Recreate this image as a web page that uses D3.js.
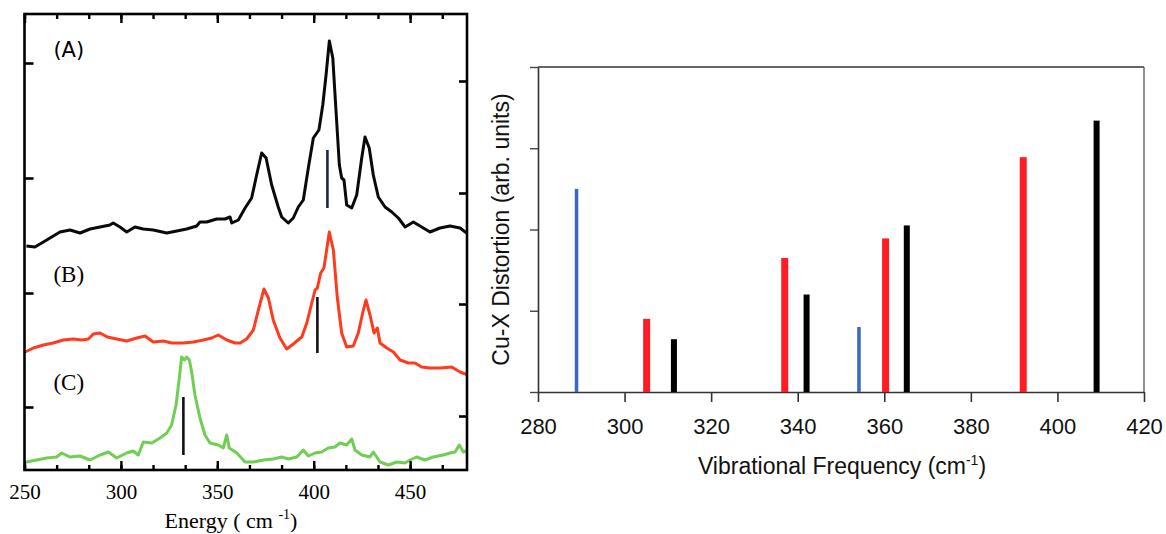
<!DOCTYPE html>
<html>
<head>
<meta charset="utf-8">
<script src="https://cdn.jsdelivr.net/npm/d3@7"></script>
<style>
  html, body { margin: 0; padding: 0; background: #fff; }
  svg { display: block; }
</style>
</head>
<body>
<svg id="chart" width="1166" height="534"></svg>
<script>
// ---- Left panel: resonance Raman spectra (stacked, arbitrary intensity) ----
// [energy (cm-1), intensity]
const spectrumA = [
  [251,22.4],[255.4,22.3],[259.8,22.8],[264.1,23.3],[268.4,23.8],[273.6,24.0],[278.8,23.7],
  [284,24.1],[289.2,24.3],[294.3,24.5],[296,24.7],[299.5,24.3],[303,23.8],[307.3,24.3],
  [311.6,24.1],[316.8,24.0],[323.8,23.7],[329,23.9],[334.1,24.1],[339.3,24.4],[341,24.8],
  [344.5,24.8],[349.7,25.1],[354,25.1],[356.6,25.3],[357.5,24.7],[360.9,25.0],[364.4,26.2],
  [367.8,27.2],[370.4,29.5],[373,31.7],[375.3,31.2],[378.2,28.5],[381.6,26.3],[383.4,25.3],
  [386.8,24.7],[389.4,25.2],[392,26.3],[394.6,27.0],[397.2,30.2],[399.8,33.2],[402.7,34.0],
  [404.7,36.5],[406.4,39.5],[408.1,42.9],[409.9,41.2],[411.6,35.8],[413.3,30.5],[414.5,29.2],
  [415.7,29.0],[417.1,26.5],[419.7,26.2],[422.3,27.5],[424.9,31.2],[426.6,33.3],[428.8,32.2],
  [430.9,29.5],[433.5,27.3],[437,26.3],[440.5,25.8],[443.9,25.2],[447.4,24.3],[451.7,24.8],
  [456,24.3],[460.3,23.8],[465.5,24.2],[470.7,24.4],[475.9,24.2],[480,23.6]
];
const spectrumB = [
  [250.3,11.8],[254.6,12.2],[259.8,12.5],[264.9,12.7],[270.1,13.0],[275.3,13.1],[279.7,13.0],
  [283.1,13.1],[285.7,13.6],[289.2,13.7],[292.9,13.3],[297.8,13.1],[303,12.9],[308.2,13.2],
  [312.5,13.4],[316.8,12.8],[322,12.9],[326.3,12.7],[332.4,12.7],[337.6,12.8],[342.7,13.0],
  [347.1,13.2],[350.5,13.5],[354.9,13.0],[359.2,12.7],[361.8,12.7],[365.2,13.1],[368.7,14.0],
  [371.3,16.0],[374.2,18.1],[376.5,17.2],[379,15.0],[382.5,13.2],[386,12.1],[389.4,12.6],
  [393.8,13.3],[396.4,14.7],[399,16.7],[400.7,18.0],[401.9,18.2],[403.6,19.7],[405.3,20.2],
  [408.1,23.8],[410.2,22.0],[412.2,17.3],[414.5,13.7],[417.1,12.3],[420.5,12.4],[423.1,13.7],
  [425.4,15.7],[427.1,17.0],[429.2,15.5],[431.3,13.7],[433,14.2],[434.4,12.7],[437.9,12.2],
  [441.3,11.8],[444.8,11.0],[449.1,10.7],[452.5,10.7],[456,10.3],[460.3,10.2],[465.5,10.2],
  [471.6,10.3],[475.9,9.8],[480,9.5]
];
const spectrumC = [
  [251.1,0.8],[256.3,1.0],[261.5,1.2],[266.7,1.3],[269.3,1.7],[273.6,1.3],[278.8,1.4],
  [284,1.0],[289.2,1.5],[293.5,1.8],[297.8,1.2],[303,1.7],[306.4,1.9],[309,1.5],[311.6,2.8],
  [316,2.7],[320.3,3.2],[323.8,3.7],[326.3,4.5],[328.6,6.5],[330.3,9.2],[331.5,11.3],
  [333,11.0],[334.1,11.3],[335.5,11.0],[336.7,9.8],[338.4,7.5],[341,5.2],[343.6,3.5],
  [346.2,2.7],[350.5,2.5],[353.1,2.2],[354.9,3.5],[356.2,2.2],[360.1,1.7],[364.4,0.8],
  [368.7,0.8],[373.9,1.0],[379,1.1],[383.4,1.3],[386.8,1.1],[391.2,1.3],[394.6,2.0],
  [397.2,1.4],[400.7,1.7],[404.1,1.8],[407.6,2.2],[411,2.3],[413.6,2.7],[417.1,2.5],
  [419.7,3.1],[421.4,2.0],[424.9,1.5],[429.2,1.3],[430.9,1.8],[434.4,0.8],[438.7,0.5],
  [443.1,0.8],[447.4,0.7],[449.9,1.0],[453.4,1.3],[457.7,1.0],[462,1.3],[467.2,1.5],
  [470.7,1.7],[473.3,1.8],[475.5,2.5],[477.6,1.8],[480.2,2.0]
];
const spectrumLabels = ["(A)", "(B)", "(C)"];
const labelLevels = [41.3, 18.8, 8.0];

// calculated mode positions drawn as sticks on each spectrum
const stickEnergy = [407.1, 401.9, 332.4];
const stickLow = [26.2, 11.7, 1.5];
const stickHigh = [32.0, 17.3, 7.3];

const energyMajor = [250, 300, 350, 400, 450];
const leftAxisTicks = [6.3, 17.7, 29.2, 40.7];
const rightAxisTicks = [5.4, 16.6, 27.7, 38.9];

// ---- Right panel: Cu-X distortion vs vibrational frequency ----
const freqBlue = [288.9, 354.15];
const distBlue = [2.5, 0.8];
const freqRed = [305.1, 337.0, 360.3, 392.1];
const distRed = [0.9, 1.65, 1.89, 2.89];
const freqBlack = [311.4, 342.05, 365.2, 409.05];
const distBlack = [0.65, 1.2, 2.05, 3.34];
const freqTicks = [280, 300, 320, 340, 360, 380, 400, 420];
const distTicks = [0, 1, 2, 3, 4];

const svg = d3.select("#chart");

// ================= left panel =================
const xL = d3.scaleLinear().domain([250, 479.5]).range([24.5, 467]);
const yL = d3.scaleLinear().domain([0, 45.6]).range([470, 14]);
const serif = "'Liberation Serif', 'Times New Roman', serif";

svg.append("clipPath").attr("id", "leftClip")
  .append("rect")
  .attr("x", xL.range()[0]).attr("y", yL.range()[1])
  .attr("width", xL.range()[1] - xL.range()[0])
  .attr("height", yL.range()[0] - yL.range()[1]);

const line = d3.line().x(d => xL(d[0])).y(d => yL(d[1])).curve(d3.curveLinear);
const traces = [
  {data: spectrumA, color: "#0a0a0a"},
  {data: spectrumB, color: "#ff3a1e"},
  {data: spectrumC, color: "#6fcf52"}
];
const gTr = svg.append("g").attr("clip-path", "url(#leftClip)");
gTr.selectAll("path.trace").data(traces).join("path")
  .attr("class", "trace")
  .attr("d", d => line(d.data))
  .attr("fill", "none")
  .attr("stroke", d => d.color)
  .attr("stroke-width", 3)
  .attr("stroke-linejoin", "round");

const stickColors = ["#1c2646", "#111", "#111"];
svg.append("g").selectAll("line").data(stickEnergy).join("line")
  .attr("x1", d => xL(d)).attr("x2", d => xL(d))
  .attr("y1", (d, i) => yL(stickLow[i])).attr("y2", (d, i) => yL(stickHigh[i]))
  .attr("stroke", (d, i) => stickColors[i])
  .attr("stroke-width", 2.6);

// tick marks (pointing inward) on all four sides
const minorTicks = d3.range(0, 14).map(k => 250 + k * 50 / 3).filter(v => v < 479);
const frameStroke = 2.6;
function styleTicks(g, w) {
  g.select(".domain").remove();
  g.selectAll(".tick line").attr("stroke", "#000").attr("stroke-width", w);
}
svg.append("g").attr("transform", `translate(0,${yL.range()[1]})`)
  .call(d3.axisTop(xL).tickValues(minorTicks).tickSize(-5).tickFormat(""))
  .call(g => styleTicks(g, 2.4));
svg.append("g").attr("transform", `translate(0,${yL.range()[1]})`)
  .call(d3.axisTop(xL).tickValues(energyMajor).tickSize(-9).tickFormat(""))
  .call(g => styleTicks(g, 2.4));
svg.append("g").attr("transform", `translate(0,${yL.range()[0]})`)
  .call(d3.axisBottom(xL).tickValues(minorTicks).tickSize(-5).tickFormat(""))
  .call(g => styleTicks(g, 2.4));
const gxL = svg.append("g").attr("transform", `translate(0,${yL.range()[0]})`)
  .call(d3.axisBottom(xL).tickValues(energyMajor).tickSize(-9).tickFormat(d3.format("d")))
  .call(g => styleTicks(g, 2.4));
gxL.selectAll("text")
  .attr("y", 29).attr("dy", null)
  .attr("font-family", serif).attr("font-size", 21).attr("fill", "#000");
svg.append("g").attr("transform", `translate(${xL.range()[0]},0)`)
  .call(d3.axisLeft(yL).tickValues(leftAxisTicks).tickSize(-9).tickFormat(""))
  .call(g => styleTicks(g, 2.6));
svg.append("g").attr("transform", `translate(${xL.range()[1]},0)`)
  .call(d3.axisRight(yL).tickValues(rightAxisTicks).tickSize(-8).tickFormat(""))
  .call(g => styleTicks(g, 2.6));

svg.append("rect")
  .attr("x", xL.range()[0]).attr("y", yL.range()[1])
  .attr("width", xL.range()[1] - xL.range()[0])
  .attr("height", yL.range()[0] - yL.range()[1])
  .attr("fill", "none").attr("stroke", "#000").attr("stroke-width", frameStroke);

// panel labels
const labelFonts = ["'DejaVu Sans', Verdana, sans-serif", serif, serif];
const labelSizes = [21, 23, 23];
svg.append("g").selectAll("text").data(spectrumLabels).join("text")
  .attr("x", xL(265))
  .attr("y", (d, i) => yL(labelLevels[i]))
  .attr("font-family", (d, i) => labelFonts[i])
  .attr("font-size", (d, i) => labelSizes[i])
  .attr("fill", "#000")
  .text(d => d);

const eTitle = svg.append("text")
  .attr("x", 231).attr("y", 528)
  .attr("text-anchor", "middle")
  .attr("font-family", serif).attr("font-size", 22).attr("fill", "#000");
eTitle.append("tspan").text("Energy ( cm ");
eTitle.append("tspan").attr("dy", -9).attr("font-size", 14).text("-1");
eTitle.append("tspan").attr("dy", 9).text(")");

// ================= right panel =================
const xR = d3.scaleLinear().domain([280, 420]).range([538, 1144]);
const yR = d3.scaleLinear().domain([0, 4]).range([392, 67]);
const sans = "'Liberation Sans', Arial, Helvetica, sans-serif";

// frame top/right
svg.append("line")
  .attr("x1", xR(280)).attr("x2", xR(420)).attr("y1", yR(4)).attr("y2", yR(4))
  .attr("stroke", "#333").attr("stroke-width", 1.3);
svg.append("line")
  .attr("x1", xR(420)).attr("x2", xR(420)).attr("y1", yR(4)).attr("y2", yR(0))
  .attr("stroke", "#555").attr("stroke-width", 1.3);

const gxR = svg.append("g").attr("transform", `translate(0,${yR(0)})`)
  .call(d3.axisBottom(xR).tickValues(freqTicks).tickSize(10).tickSizeOuter(0).tickFormat(d3.format("d")));
gxR.select(".domain").attr("stroke", "#333").attr("stroke-width", 1.6);
gxR.selectAll(".tick line").attr("stroke", "#333").attr("stroke-width", 1.6);
gxR.selectAll("text")
  .attr("y", 42).attr("dy", null)
  .attr("font-family", sans).attr("font-size", 22).attr("fill", "#111");

const gyR = svg.append("g").attr("transform", `translate(${xR(280)},0)`)
  .call(d3.axisLeft(yR).tickValues(distTicks).tickSize(8).tickSizeOuter(0).tickFormat(""));
gyR.select(".domain").attr("stroke", "#333").attr("stroke-width", 1.6);
gyR.selectAll(".tick line").attr("stroke", "#444").attr("stroke-width", 1.4);

// bars
const barSeries = [
  {freq: freqBlue, dist: distBlue, color: "#3a68c6", width: 3.5},
  {freq: freqRed, dist: distRed, color: "#ff1c24", width: 7},
  {freq: freqBlack, dist: distBlack, color: "#000000", width: 6}
];
const gBars = svg.append("g");
barSeries.forEach(s => {
  gBars.append("g").selectAll("rect").data(s.freq).join("rect")
    .attr("x", d => xR(d) - s.width / 2)
    .attr("width", s.width)
    .attr("y", (d, i) => yR(s.dist[i]))
    .attr("height", (d, i) => yR(0) - yR(s.dist[i]))
    .attr("fill", s.color);
});

const xTitle = svg.append("text")
  .attr("x", (xR.range()[0] + xR.range()[1]) / 2 + 1).attr("y", 474)
  .attr("text-anchor", "middle")
  .attr("font-family", sans).attr("font-size", 23).attr("fill", "#111");
xTitle.append("tspan").text("Vibrational Frequency (cm");
xTitle.append("tspan").attr("dy", -9).attr("font-size", 14).text("-1");
xTitle.append("tspan").attr("dy", 9).text(")");

svg.append("text")
  .attr("transform", `translate(509,${(yR.range()[0] + yR.range()[1]) / 2}) rotate(-90)`)
  .attr("text-anchor", "middle")
  .attr("font-family", sans).attr("font-size", 23).attr("fill", "#111")
  .text("Cu-X Distortion (arb. units)");
</script>
</body>
</html>
